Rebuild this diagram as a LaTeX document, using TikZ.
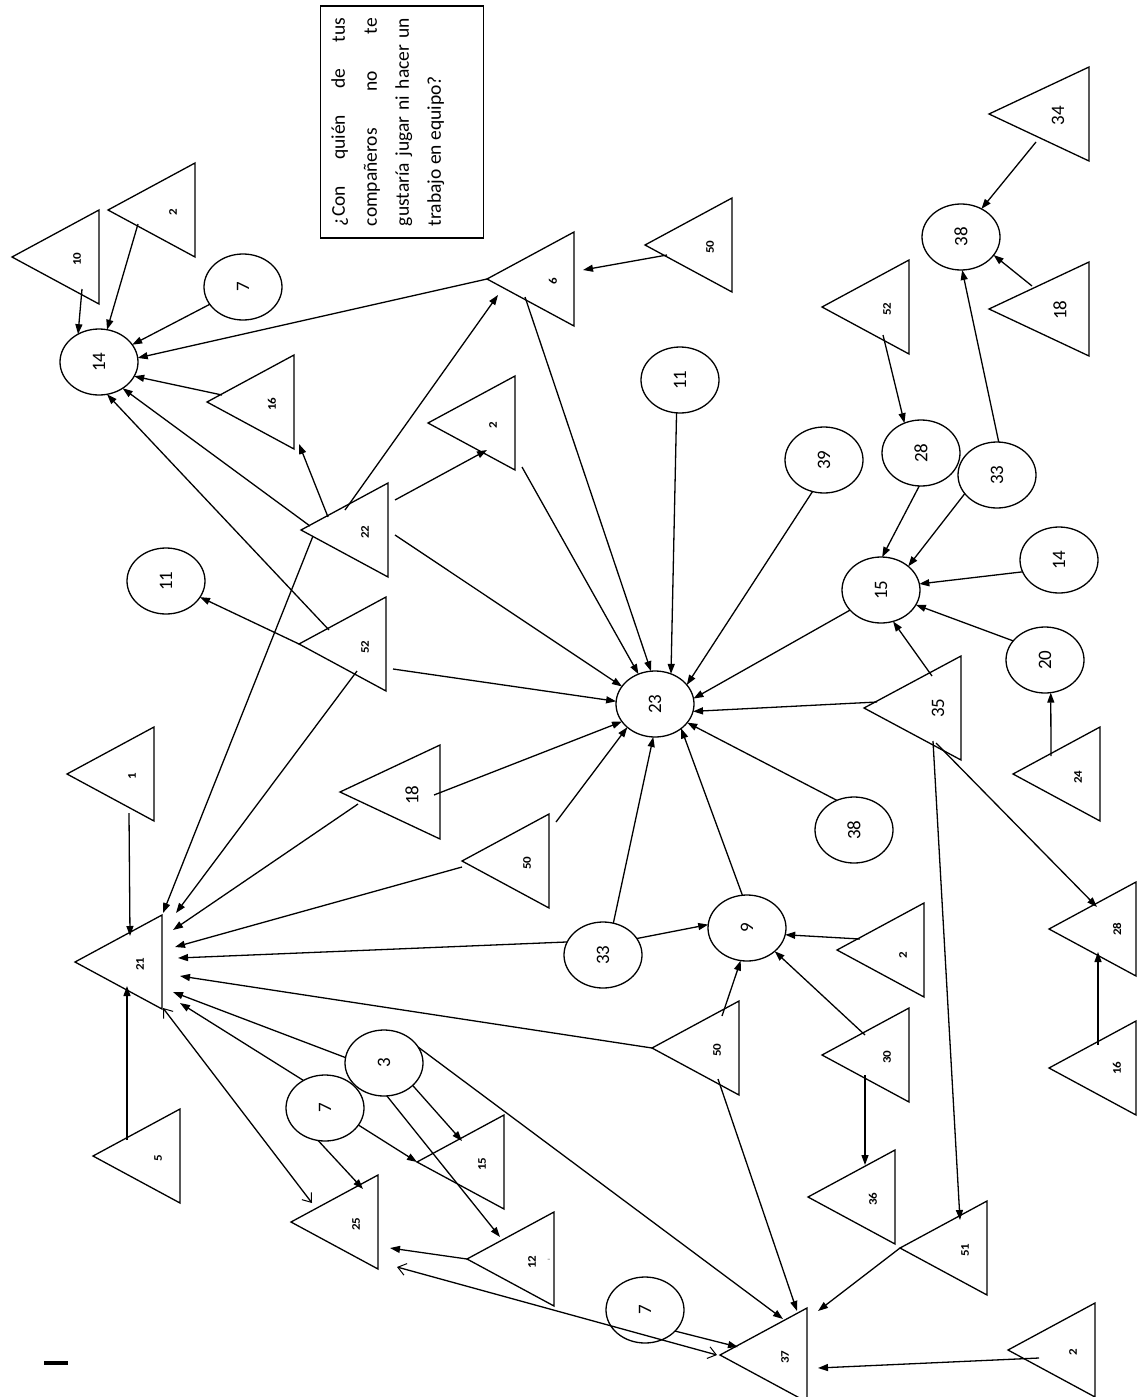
\documentclass[tikz,border=0pt]{standalone}
\usepackage{fontspec}
\setmainfont{Carlito}
\usepackage{graphicx}
\usetikzlibrary{shapes.geometric,arrows.meta,calc}
\newcommand\rtxt[1]{\rotatebox{90}{#1}}
\newcommand\stxt[1]{\rotatebox{90}{\scalebox{1}[0.9]{#1}}}
\begin{document}
\begin{tikzpicture}[x=1pt,y=-1pt,line width=1.3pt,
  tri/.style={draw, isosceles triangle, shape border rotate=180, isosceles triangle stretches,
    minimum width=94pt, minimum height=87pt, inner sep=0pt, outer sep=0pt, anchor=apex},
  bigtri/.style={tri, minimum height=100pt},
  circ/.style={draw, ellipse, minimum width=78pt, minimum height=66pt, inner sep=0pt, outer sep=0pt,
    font=\fontsize{19}{19}\selectfont},
  slab/.style={inner sep=0pt, font=\fontsize{13}{13}\selectfont\bfseries},
  blab/.style={inner sep=0pt, font=\fontsize{19}{19}\selectfont},
  arr/.style={-{Triangle[length=10pt,width=7pt]}},
  dbl/.style={{Straight Barb[length=8pt,width=12pt,line width=1pt]}-{Straight Barb[length=8pt,width=12pt,line width=1pt]}}]
\fill[white] (0,0) rectangle (1142,1397);
\useasboundingbox (0,0) rectangle (1142,1397);

% question box
\node[draw, rotate=90, text width=208pt, align=justify, inner xsep=12pt, inner ysep=11pt,
  font=\fontsize{19.5}{32}\selectfont] (box) at (402,122)
  {\hyphenpenalty=10000 ¿Con quién de tus\linebreak compañeros no te\linebreak gustaría jugar ni hacer un\linebreak trabajo en equipo?\par\mbox{}};

% circles
\node[circ] (c14)  at (99,362)   {\rtxt{14}};
\node[circ] (c7a)  at (243,287)  {\rtxt{7}};
\node[circ] (c11a) at (166,581)  {\rtxt{11}};
\node[circ] (c11b) at (680,380)  {\rtxt{11}};
\node[circ] (c23)  at (655,704)  {\rtxt{23}};
\node[circ] (c39)  at (824,460)  {\rtxt{39}};
\node[circ] (c28)  at (921,453)  {\rtxt{28}};
\node[circ] (c33a) at (997,475)  {\rtxt{33}};
\node[circ] (c15)  at (881,590)  {\rtxt{15}};
\node[circ] (c14b) at (1059,560) {\rtxt{14}};
\node[circ] (c20)  at (1045,660) {\rtxt{20}};
\node[circ] (c38a) at (854,830)  {\rtxt{38}};
\node[circ] (c38b) at (961,237)  {\rtxt{38}};
\node[circ] (c33b) at (603,955)  {\rtxt{33}};
\node[circ] (c9)   at (747,928)  {\rtxt{9}};
\node[circ] (c3)   at (384,1063) {\rtxt{3}};
\node[circ] (c7b)  at (325,1108) {\rtxt{7}};
\node[circ] (c7c)  at (645,1310) {\rtxt{7}};

% triangles (apex points left)
\node[tri] (t10)  at (12,257)   {};  \node[slab] (l10)  at ($(t10.apex)+(65,2)$)  {\stxt{10}};
\node[tri] (t2a)  at (108,210)  {};  \node[slab] (l2a)  at ($(t2a.apex)+(65,2)$)  {\stxt{2}};
\node[tri] (t16a) at (207,402)  {};  \node[slab] (l16a) at ($(t16a.apex)+(65,2)$) {\stxt{16}};
\node[tri] (t6)   at (487,279)  {};  \node[slab] (l6)   at ($(t6.apex)+(66,2)$)   {\stxt{6}};
\node[tri] (t50a) at (645,245)  {};  \node[slab] (l50a) at ($(t50a.apex)+(65,2)$) {\stxt{50}};
\node[tri] (t2b)  at (428,423)  {};  \node[slab] (l2b)  at ($(t2b.apex)+(65,2)$)  {\stxt{2}};
\node[tri] (t22)  at (301,530)  {};  \node[slab] (l22)  at ($(t22.apex)+(64,2)$)  {\stxt{22}};
\node[tri] (t52a) at (299,644)  {};  \node[slab] (l52a) at ($(t52a.apex)+(66,3)$) {\stxt{52}};
\node[tri] (t1)   at (67,774)   {};  \node[slab] (l1)   at ($(t1.apex)+(65,2)$)   {\stxt{1}};
\node[tri] (t21)  at (75,962)   {};  \node[slab] (l21)  at ($(t21.apex)+(65,2)$)  {\stxt{21}};
\node[bigtri] (t18a) at (340,792) {}; \node[blab] (l18a) at ($(t18a.apex)+(72,3)$) {\rtxt{18}};
\node[tri] (t50b) at (462,861)  {};  \node[slab] (l50b) at ($(t50b.apex)+(65,2)$) {\stxt{50}};
\node[tri] (t50c) at (652,1048) {};  \node[slab] (l50c) at ($(t50c.apex)+(65,2)$) {\stxt{50}};
\node[tri] (t5)   at (93,1156)  {};  \node[slab] (l5)   at ($(t5.apex)+(65,2)$)   {\stxt{5}};
\node[tri] (t15)  at (417,1162) {};  \node[slab] (l15)  at ($(t15.apex)+(65,2)$)  {\stxt{15}};
\node[tri] (t25)  at (291,1222) {};  \node[slab] (l25)  at ($(t25.apex)+(65,2)$)  {\stxt{25}};
\node[tri] (t12)  at (467,1259) {};  \node[slab] (l12)  at ($(t12.apex)+(65,3)$)  {\stxt{12}};
\node[inner sep=0pt, text=gray, font=\fontsize{10}{10}\selectfont] (m12) at ($(t12.apex)+(82,2)$) {-};
\node[tri] (t2c)  at (837,950)  {};  \node[slab] (l2c)  at ($(t2c.apex)+(66,5)$)  {\stxt{2}};
\node[tri] (t30)  at (822,1055) {};  \node[slab] (l30)  at ($(t30.apex)+(65,2)$)  {\stxt{30}};
\node[tri] (t36)  at (808,1197) {};  \node[slab] (l36)  at ($(t36.apex)+(65,2)$)  {\stxt{36}};
\node[tri] (t51)  at (900,1248) {};  \node[slab] (l51)  at ($(t51.apex)+(65,2)$)  {\stxt{51}};
\node[tri] (t37)  at (720,1355) {};  \node[slab] (l37)  at ($(t37.apex)+(65,2)$)  {\stxt{37}};
\node[tri] (t2d)  at (1008,1350) {}; \node[slab] (l2d)  at ($(t2d.apex)+(65,2)$)  {\stxt{2}};
\node[tri] (t28)  at (1049,929) {};  \node[slab] (l28)  at ($(t28.apex)+(68,0)$)  {\stxt{28}};
\node[tri] (t16b) at (1049,1068) {}; \node[slab] (l16b) at ($(t16b.apex)+(68,0)$) {\stxt{16}};
\node[tri] (t24)  at (1013,774) {};  \node[slab] (l24)  at ($(t24.apex)+(65,3)$)  {\stxt{24}};
\node[tri, minimum width=104pt, minimum height=97pt] (t35) at (864,708) {};
  \node[blab] (l35) at ($(t35.apex)+(74,0)$) {\rtxt{35}};
\node[tri] (t52b) at (822,307)  {};  \node[slab] (l52b) at ($(t52b.apex)+(65,2)$) {\stxt{52}};
\node[bigtri] (t34)  at (989,114) {}; \node[blab] (l34) at ($(t34.apex)+(69,2)$) {\rtxt{34}};
\node[bigtri] (t18b) at (989,309) {}; \node[blab] (l18b) at ($(t18b.apex)+(71,1)$) {\rtxt{18}};

% stray mark bottom left
\node[inner sep=0pt] (dash) at (56,1363) {\rule{24pt}{3.5pt}};

% ---- connectors ----
% into 14
\draw[arr] ($(t10.apex)+(70,32)$) -- (c14.127);
\draw[arr] ($(t2a.apex)+(30,14)$) -- (c14.76);
\draw[arr] (c7a) -- (c14);
\draw[arr] (t6.apex) -- (c14.6);
\draw[arr] ($(t16a.apex)+(15,-7)$) -- (c14.-22);
\draw[arr] ($(t22.apex)+(9,-4)$) -- (c14.-48);
\draw[arr] ($(t52a.apex)+(30,-14)$) -- (c14.-76);
% from 22
\draw[arr] ($(t22.apex)+(27,-13)$) -- ($(t16a.apex)+(92,42)$);
\draw[arr] ($(t22.apex)+(44,-20)$) -- ($(t6.apex)+(11,16)$);
\draw[arr] ($(t22.apex)+(94,-30)$) -- ($(t2b.apex)+(59,27)$);
\draw[arr] ($(t22.apex)+(94,5)$) -- (c23.152);
\draw[arr] ($(t22.apex)+(12,6)$) -- ($(t21.apex)+(88,-49)$);
% from 52
\draw[arr] (t52a.apex) -- (c11a);
\draw[arr] ($(t52a.apex)+(94,25)$) -- (c23.176);
\draw[arr] ($(t52a.apex)+(58,27)$) -- ($(t21.apex)+(101,-49)$);
% into 23
\draw[arr] ($(t2b.apex)+(94,44)$) -- (c23.119);
\draw[arr] ($(t6.apex)+(38,18)$) -- (c23.97);
\draw[arr] (c11b.-96) -- (c23.62);
\draw[arr] (c39.250) -- (c23.31);
\draw[arr] (c15.213) -- (c23.8);
\draw[arr] ($(t35.apex)+(13,-6)$) -- (c23.-11);
\draw[arr] (c38a.120) -- (c23.-30);
\draw[arr] (c9.98) -- (c23.-43);
\draw[arr] (c33b.72) -- (c23.-93);
\draw[arr] ($(t50b.apex)+(94,-39)$) -- (c23.220);
\draw[arr] ($(t18a.apex)+(94,3)$) -- (c23.208);
% into 21
\draw[arr] ($(t1.apex)+(62,39)$) -- ($(t21.apex)+(55,-26)$);
\draw[arr] ($(t5.apex)+(34,-16)$) -- ($(t21.apex)+(52,24)$);
\draw[arr] ($(t18a.apex)+(18,12)$) -- ($(t21.apex)+(98,-32)$);
\draw[arr] ($(t50b.apex)+(0,6)$) -- ($(t21.apex)+(100,-15)$);
\draw[arr] (c33b.160) -- ($(t21.apex)+(103,-4)$);
\draw[arr] (t50c.apex) -- ($(t21.apex)+(105,14)$);
\draw[arr] (c3.172) -- ($(t21.apex)+(98,30)$);
\draw[arr] (c7b.128) -- ($(t21.apex)+(105,41)$);
\draw[dbl] ($(t21.apex)+(88,46)$) -- ($(t25.apex)+(21,-19)$);
% into 9
\draw[arr] (c33b.26) -- (c9.175);
\draw[arr] ($(t2c.apex)+(23,-11)$) -- (c9.-10);
\draw[arr] ($(t30.apex)+(43,-20)$) -- (c9.-40);
\draw[arr] ($(t50c.apex)+(70,-32)$) -- (c9.-101);
% into 37
\draw[arr] ($(t50c.apex)+(66,31)$) -- ($(t37.apex)+(77,-44)$);
\draw[arr] (c3.25) -- ($(t37.apex)+(63,-36)$);
\draw[arr] (t51.apex) -- ($(t37.apex)+(98,-44)$);
\draw[arr] (c7c.-35) -- ($(t37.apex)+(18,-8)$);
\draw[arr] ($(t2d.apex)+(31,8)$) -- ($(t37.apex)+(98,13)$);
\draw[dbl] ($(t25.apex)+(106,45)$) -- ($(t37.apex)+(-3,0)$);
% lower-left cluster
\draw[arr] (t12.apex) -- ($(t25.apex)+(99,26)$);
\draw[arr] (c3.-38) -- ($(t15.apex)+(45,-21)$);
\draw[arr] (c3.-85) -- ($(t12.apex)+(33,-22)$);
\draw[arr] (c7b.-27) -- (t15.apex);
\draw[arr] (c7b.-102) -- ($(t25.apex)+(72,-33)$);
% right part
\draw[arr] ($(t30.apex)+(43,20)$) -- ($(t36.apex)+(57,-32)$);
\draw[arr] ($(t35.apex)+(69,33)$) -- ($(t51.apex)+(60,-28)$);
\draw[arr] ($(t35.apex)+(72,35)$) -- ($(t28.apex)+(48,-22)$);
\draw[arr] ($(t16b.apex)+(49,-23)$) -- ($(t28.apex)+(49,23)$);
\draw[arr] ($(t35.apex)+(68,-32)$) -- (c15.-69);
\draw[arr] ($(t24.apex)+(38,-18)$) -- (c20.-80);
\draw[arr] (c20.149) -- (c15.-23);
\draw[arr] (c14b.198) -- (c15.9);
\draw[arr] (c28.-93) -- (c15.88);
\draw[arr] (c33a.210) -- (c15.41);
\draw[arr] (c33a.87) -- (c38b.-88);
\draw[arr] ($(t52b.apex)+(61,28)$) -- (c28.119);
\draw[arr] ($(t18b.apex)+(43,-23)$) -- (c38b.-29);
\draw[arr] ($(t34.apex)+(47,28)$) -- (c38b.54);
\draw[arr] ($(t50a.apex)+(22,10)$) -- ($(t6.apex)+(96,-9)$);
\end{tikzpicture}
\end{document}
